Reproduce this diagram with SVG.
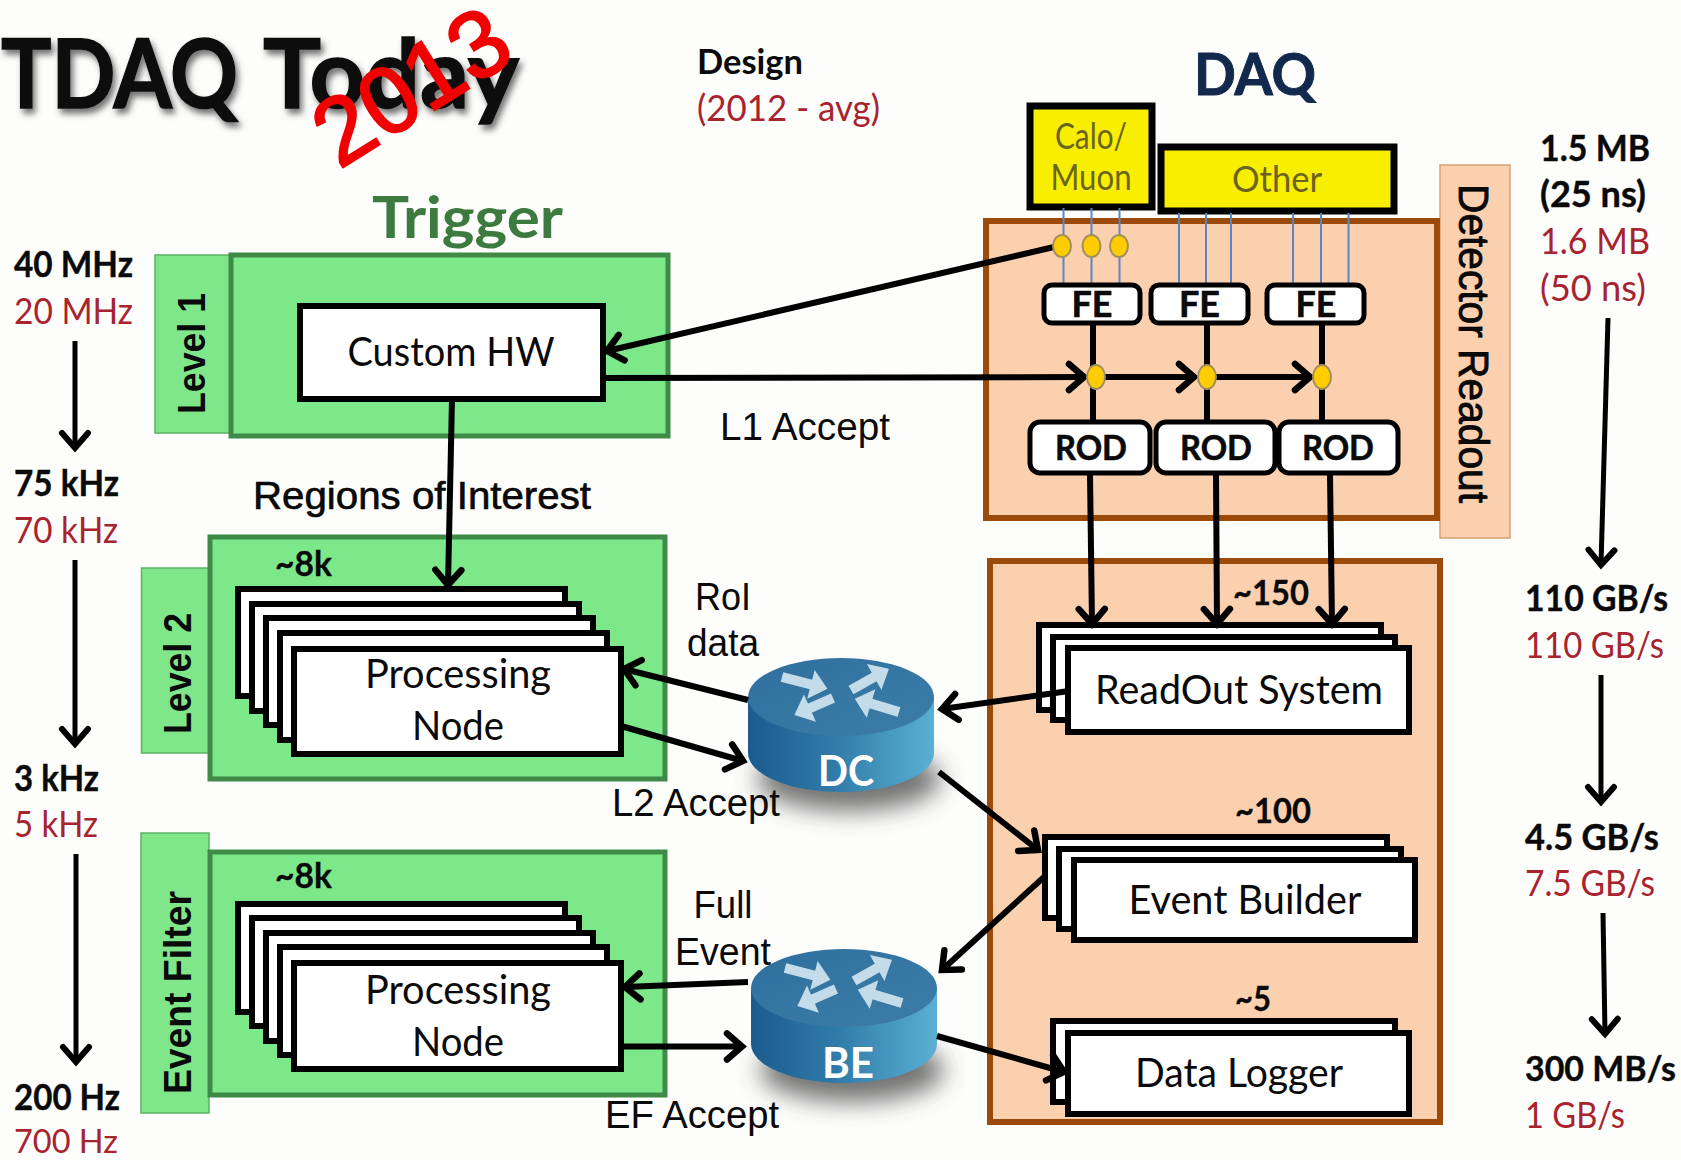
<svg xmlns="http://www.w3.org/2000/svg" width="1681" height="1160" viewBox="0 0 1681 1160">
<style>
text{font-family:Lato,"Open Sans","Liberation Sans",sans-serif;fill:#0a0a0a}
.b{font-weight:700}
.red{fill:#a8232e}
.r{font-size:37px;font-weight:700;stroke:#0a0a0a;stroke-width:.4}
.rr{font-size:37px;fill:#a8232e}
.m{text-anchor:middle}
.a{font-family:"Liberation Sans",Arial,sans-serif;font-size:38px}
.lab{font-family:"Liberation Sans",Arial,sans-serif;font-size:38px;font-weight:700}
.box{fill:#fff;stroke:#000;stroke-width:6}
.big{fill:#7de88a;stroke:#3f8a46;stroke-width:5}
.tab{fill:#7fe68a;stroke:#5bb365;stroke-width:1.5}
.org{fill:#fbd0ae;stroke:#9c4a0a;stroke-width:6}
.yel{fill:#f8ee00;stroke:#000;stroke-width:7}
.fe{fill:#fff;stroke:#000;stroke-width:5}
.ytx{fill:#6b6420;font-size:36px;text-anchor:middle}
.t38{font-size:40px;text-anchor:middle}
.cnt{font-size:35px;font-weight:700;stroke:#0a0a0a;stroke-width:.3}
.c{fill:none;stroke:#000;stroke-width:6;marker-end:url(#head)}
.c0{fill:none;stroke:#000;stroke-width:6}
.t{fill:none;stroke:#000;stroke-width:5;marker-end:url(#head2)}
.blue{stroke:#5a86c4;stroke-width:2;fill:none}
.j{fill:#ffcc00;stroke:#a09060;stroke-width:2}
.ra{fill:none;stroke:#c4dcea;stroke-width:10;marker-end:url(#wa)}
</style>
<defs>
<marker id="head" markerUnits="userSpaceOnUse" markerWidth="40" markerHeight="40" viewBox="-24 -20 40 40" refX="-1" refY="0" orient="auto" overflow="visible"><path d="M-16,-13 L-1,0 L-16,13" fill="none" stroke="#000" stroke-width="6.500" stroke-linecap="round"/></marker>
<marker id="head2" markerUnits="userSpaceOnUse" markerWidth="40" markerHeight="40" viewBox="-24 -20 40 40" refX="-1" refY="0" orient="auto" overflow="visible"><path d="M-16,-13 L-1,0 L-16,13" fill="none" stroke="#000" stroke-width="6" stroke-linecap="round"/></marker>
<marker id="wa" markerUnits="userSpaceOnUse" markerWidth="34" markerHeight="34" viewBox="-2 -16 24 32" refX="2" refY="0" orient="auto" overflow="visible"><path d="M0,-14 L16,0 L0,14Z" fill="#c4dcea"/></marker>
<linearGradient id="side" x1="0" x2="1" y1="0" y2="0"><stop offset="0" stop-color="#1c5b8f"/><stop offset=".45" stop-color="#2f7aa8"/><stop offset="1" stop-color="#5ab0d2"/></linearGradient>
<linearGradient id="top" x1="0" x2="1" y1="0" y2="1"><stop offset="0" stop-color="#2f6f9e"/><stop offset="1" stop-color="#3c7ea8"/></linearGradient>
<filter id="sh" x="-10%" y="-30%" width="120%" height="170%"><feDropShadow dx="3" dy="5" stdDeviation="3" flood-color="#444" flood-opacity=".75"/></filter>
<filter id="bl" x="-40%" y="-100%" width="180%" height="300%"><feGaussianBlur stdDeviation="12"/></filter>
<g id="router">
<ellipse cx="8" cy="82" rx="92" ry="32" fill="#444" opacity=".75" filter="url(#bl)"/>
<path d="M-93,0 L-93,56 A93,39 0 0 0 93,56 L93,0 Z" fill="url(#side)"/>
<ellipse cx="0" cy="0" rx="93" ry="39" fill="url(#top)"/>
<path class="ra" d="M-59,-20 L-28,-12"/>
<path class="ra" d="M10,-7 L35,-21"/>
<path class="ra" d="M-8,1 L-33,12"/>
<path class="ra" d="M58,15 L28,6"/>
</g>
</defs>
<rect width="1681" height="1160" fill="#fdfdfc"/>

<g id="title"><text y="108" class="b" font-size="95" filter="url(#sh)" style="stroke:#0a0a0a;stroke-width:1.5"><tspan x="1" textLength="237" lengthAdjust="spacingAndGlyphs">TDAQ</tspan> <tspan x="263" textLength="256" lengthAdjust="spacingAndGlyphs">Today</tspan></text></g>
<g id="year"><text transform="translate(339,170) rotate(-32)" style="font-family:'Liberation Sans',Arial,sans-serif;fill:#f00000;stroke:#f00000;stroke-width:2;font-size:95px">2013</text></g>
<g id="design"><text x="697" y="74" class="b" font-size="34" textLength="106" lengthAdjust="spacingAndGlyphs">Design</text><text x="697" y="121" class="red" font-size="37" textLength="183" lengthAdjust="spacingAndGlyphs">(2012 - avg)</text></g>
<g id="trigger-title"><text x="372" y="238" class="b" font-size="58" style="fill:#3c7a3f" textLength="191" lengthAdjust="spacingAndGlyphs">Trigger</text></g>
<g id="daq-title"><text x="1194" y="95" class="b" font-size="58" style="fill:#12284c;stroke:#12284c;stroke-width:1" textLength="122" lengthAdjust="spacingAndGlyphs">DAQ</text></g>

<g id="rates-left">
<text x="14" y="277" class="r" textLength="119" lengthAdjust="spacingAndGlyphs">40 MHz</text><text x="14" y="324" class="rr" textLength="119" lengthAdjust="spacingAndGlyphs">20 MHz</text>
<text x="14" y="496" class="r" textLength="105" lengthAdjust="spacingAndGlyphs">75 kHz</text><text x="14" y="543" class="rr" textLength="104" lengthAdjust="spacingAndGlyphs">70 kHz</text>
<text x="14" y="791" class="r" textLength="85" lengthAdjust="spacingAndGlyphs">3 kHz</text><text x="14" y="837" class="rr" textLength="84" lengthAdjust="spacingAndGlyphs">5 kHz</text>
<text x="14" y="1110" class="r" textLength="106" lengthAdjust="spacingAndGlyphs">200 Hz</text><text x="14" y="1153" class="rr" style="font-size:33px" textLength="104" lengthAdjust="spacingAndGlyphs">700 Hz</text>
</g>
<g id="rates-right">
<text x="1540" y="161" class="r" textLength="110" lengthAdjust="spacingAndGlyphs">1.5 MB</text><text x="1540" y="207" class="r" textLength="106" lengthAdjust="spacingAndGlyphs">(25 ns)</text>
<text x="1540" y="254" class="rr" textLength="110" lengthAdjust="spacingAndGlyphs">1.6 MB</text><text x="1540" y="301" class="rr" textLength="106" lengthAdjust="spacingAndGlyphs">(50 ns)</text>
<text x="1525" y="611" class="r" textLength="143" lengthAdjust="spacingAndGlyphs">110 GB/s</text><text x="1525" y="658" class="rr" textLength="139" lengthAdjust="spacingAndGlyphs">110 GB/s</text>
<text x="1525" y="850" class="r" textLength="134" lengthAdjust="spacingAndGlyphs">4.5 GB/s</text><text x="1525" y="896" class="rr" textLength="130" lengthAdjust="spacingAndGlyphs">7.5 GB/s</text>
<text x="1525" y="1081" class="r" style="font-size:34px" textLength="151" lengthAdjust="spacingAndGlyphs">300 MB/s</text><text x="1525" y="1128" class="rr" textLength="100" lengthAdjust="spacingAndGlyphs">1 GB/s</text>
</g>

<g id="level1">
<rect class="tab" x="155" y="255" width="76" height="178"/>
<rect class="big" x="231" y="255" width="437" height="181"/>
<text class="lab" transform="translate(205,414) rotate(-90)" textLength="121" lengthAdjust="spacingAndGlyphs">Level 1</text>
</g>
<g id="custom-hw"><rect class="box" x="300" y="306" width="303" height="93"/><text class="t38" x="451" y="366" textLength="207" lengthAdjust="spacingAndGlyphs">Custom HW</text></g>

<g id="level2">
<rect class="tab" x="141.500" y="568" width="68.500" height="185"/>
<rect class="big" x="210" y="537" width="455" height="242"/>
<text class="lab" transform="translate(191,734) rotate(-90)" textLength="121" lengthAdjust="spacingAndGlyphs">Level 2</text>
<text class="cnt" x="275" y="576" textLength="57" lengthAdjust="spacingAndGlyphs">~8k</text>
</g>
<g id="pn-l2">
<rect class="box" x="238" y="589" width="327" height="107"/>
<rect class="box" x="252" y="604" width="327" height="107"/>
<rect class="box" x="266" y="618" width="327" height="107"/>
<rect class="box" x="280" y="633" width="327" height="107"/>
<rect class="box" x="294" y="649" width="327" height="105"/>
<text class="t38" x="458" y="688" textLength="186" lengthAdjust="spacingAndGlyphs">Processing</text>
<text class="t38" x="458" y="740" textLength="92" lengthAdjust="spacingAndGlyphs">Node</text>
</g>
<g id="event-filter">
<rect class="tab" x="141" y="833" width="68" height="280"/>
<rect class="big" x="210" y="852" width="455" height="243"/>
<text class="lab" transform="translate(191,1094) rotate(-90)" textLength="203" lengthAdjust="spacingAndGlyphs">Event Filter</text>
<text class="cnt" x="275" y="888" textLength="57" lengthAdjust="spacingAndGlyphs">~8k</text>
</g>
<g id="pn-ef">
<rect class="box" x="238" y="904" width="327" height="108"/>
<rect class="box" x="252" y="918" width="327" height="108"/>
<rect class="box" x="266" y="933" width="327" height="108"/>
<rect class="box" x="280" y="947" width="327" height="108"/>
<rect class="box" x="294" y="963" width="327" height="106"/>
<text class="t38" x="458" y="1004" textLength="186" lengthAdjust="spacingAndGlyphs">Processing</text>
<text class="t38" x="458" y="1056" textLength="92" lengthAdjust="spacingAndGlyphs">Node</text>
</g>

<g id="detector-readout">
<rect x="1440" y="165" width="70" height="373" fill="#fbd0ae" stroke="#d9a070" stroke-width="1.500"/>
<rect class="org" x="986" y="221" width="451" height="297"/>
<text class="a" transform="translate(1459,184) rotate(90)" style="font-size:42px;stroke:#000;stroke-width:.8" textLength="319" lengthAdjust="spacingAndGlyphs">Detector Readout</text>
</g>
<g id="daq-box"><rect class="org" x="990" y="561" width="450" height="561"/></g>
<g id="calo"><rect class="yel" x="1030" y="106" width="122" height="101"/><text class="ytx" x="1091" y="149" textLength="72" lengthAdjust="spacingAndGlyphs">Calo/</text><text class="ytx" x="1091" y="190" textLength="81" lengthAdjust="spacingAndGlyphs">Muon</text></g>
<g id="other"><rect class="yel" x="1161" y="147" width="233" height="64"/><text class="ytx" x="1277" y="192" textLength="90" lengthAdjust="spacingAndGlyphs">Other</text></g>
<g id="feeds"><path class="blue" d="M1063.500,208V284M1091.500,208V284M1119.500,208V284M1179,213V284M1206,213V284M1231,213V284M1293,213V284M1321,213V284M1348.500,213V284"/></g>
<g id="fe1"><rect class="fe" x="1044" y="285" width="96" height="38" rx="8"/><text class="m b" x="1092" y="317" font-size="36" style="stroke:#0a0a0a;stroke-width:.6" textLength="41" lengthAdjust="spacingAndGlyphs">FE</text></g>
<g id="fe2"><rect class="fe" x="1151" y="285" width="97" height="38" rx="8"/><text class="m b" x="1199.500" y="317" font-size="36" style="stroke:#0a0a0a;stroke-width:.6" textLength="41" lengthAdjust="spacingAndGlyphs">FE</text></g>
<g id="fe3"><rect class="fe" x="1267" y="285" width="97" height="38" rx="8"/><text class="m b" x="1316" y="317" font-size="36" style="stroke:#0a0a0a;stroke-width:.6" textLength="41" lengthAdjust="spacingAndGlyphs">FE</text></g>
<g id="connectors-readout"><path class="c0" d="M1093,324V421M1207,324V421M1322,324V421"/></g>
<g id="rod1"><rect class="fe" x="1030" y="422" width="120" height="51" rx="10"/><text class="m b" x="1091" y="460" font-size="35" style="stroke:#0a0a0a;stroke-width:.6" textLength="72" lengthAdjust="spacingAndGlyphs">ROD</text></g>
<g id="rod2"><rect class="fe" x="1156" y="422" width="119" height="51" rx="10"/><text class="m b" x="1216" y="460" font-size="35" style="stroke:#0a0a0a;stroke-width:.6" textLength="72" lengthAdjust="spacingAndGlyphs">ROD</text></g>
<g id="rod3"><rect class="fe" x="1279" y="422" width="119" height="51" rx="10"/><text class="m b" x="1338" y="460" font-size="35" style="stroke:#0a0a0a;stroke-width:.6" textLength="72" lengthAdjust="spacingAndGlyphs">ROD</text></g>

<g id="ros">
<rect class="box" x="1039" y="625" width="342" height="85"/>
<rect class="box" x="1053" y="637" width="342" height="83"/>
<rect class="box" x="1068" y="648" width="341" height="84"/>
<text class="t38" x="1239" y="704" textLength="288" lengthAdjust="spacingAndGlyphs">ReadOut System</text>
<text class="cnt" x="1233" y="605" textLength="76" lengthAdjust="spacingAndGlyphs">~150</text>
</g>
<g id="event-builder">
<rect class="box" x="1045" y="837" width="342" height="81"/>
<rect class="box" x="1059" y="849" width="342" height="80"/>
<rect class="box" x="1074" y="860" width="341" height="80"/>
<text class="t38" x="1245" y="914" textLength="233" lengthAdjust="spacingAndGlyphs">Event Builder</text>
<text class="cnt" x="1235" y="823" textLength="76" lengthAdjust="spacingAndGlyphs">~100</text>
</g>
<g id="data-logger">
<rect class="box" x="1053" y="1021" width="342" height="81"/>
<rect class="box" x="1068" y="1033" width="341" height="81"/>
<text class="t38" x="1239" y="1087" textLength="208" lengthAdjust="spacingAndGlyphs">Data Logger</text>
<text class="cnt" x="1235" y="1011" textLength="36" lengthAdjust="spacingAndGlyphs">~5</text>
</g>

<g id="dc"><use href="#router" x="841" y="697"/><text class="m b" x="846" y="786" font-size="42" style="fill:#fff" textLength="56" lengthAdjust="spacingAndGlyphs">DC</text></g>
<g id="be"><use href="#router" x="844" y="988"/><text class="m b" x="848" y="1078" font-size="42" style="fill:#fff" textLength="52" lengthAdjust="spacingAndGlyphs">BE</text></g>

<g id="labels">
<text class="a" x="253" y="509" textLength="338" lengthAdjust="spacingAndGlyphs" style="stroke:#000;stroke-width:.6">Regions of Interest</text>
<text class="a" x="720" y="440" textLength="170" lengthAdjust="spacingAndGlyphs">L1 Accept</text>
<text class="a m" x="723" y="610" textLength="56" lengthAdjust="spacingAndGlyphs">RoI</text>
<text class="a m" x="723" y="656" textLength="72" lengthAdjust="spacingAndGlyphs">data</text>
<text class="a" x="612" y="816" textLength="168" lengthAdjust="spacingAndGlyphs">L2 Accept</text>
<text class="a m" x="723" y="918" textLength="59" lengthAdjust="spacingAndGlyphs">Full</text>
<text class="a m" x="723" y="965" textLength="96" lengthAdjust="spacingAndGlyphs">Event</text>
<text class="a" x="605" y="1128" textLength="174" lengthAdjust="spacingAndGlyphs">EF Accept</text>
</g>

<g id="connectors">
<path class="c" d="M1054,247L607,351"/>
<path class="c" d="M604,378L1084,377"/>
<path class="c" d="M1096,377H1194"/>
<path class="c" d="M1207,377H1310"/>
<path class="c" d="M452,399L448,585"/>
<path class="c" d="M1090,474L1092,624"/>
<path class="c" d="M1216,474L1217,624"/>
<path class="c" d="M1330,474L1332,624"/>
<path class="c" d="M748,700L624,669"/>
<path class="c" d="M621,726L743,761"/>
<path class="c" d="M1069,691L942,709"/>
<path class="c" d="M939,772L1038,850"/>
<path class="c" d="M1044,877L942,970"/>
<path class="c" d="M937,1036L1064,1072"/>
<path class="c" d="M748,982L625,987"/>
<path class="c" d="M624,1046.500H742"/>
<path class="t" d="M75,341V448"/>
<path class="t" d="M75,560V744"/>
<path class="t" d="M76,854V1062"/>
<path class="t" d="M1608,318L1601,565"/>
<path class="t" d="M1601,675V802"/>
<path class="t" d="M1603,913L1605,1034"/>
</g>
<g id="junctions">
<ellipse class="j" cx="1062" cy="246" rx="9" ry="11"/><ellipse class="j" cx="1091.500" cy="246" rx="9" ry="11"/><ellipse class="j" cx="1119" cy="246" rx="9" ry="11"/>
<ellipse class="j" cx="1096" cy="377" rx="9" ry="12"/><ellipse class="j" cx="1207" cy="377" rx="9" ry="12"/><ellipse class="j" cx="1322" cy="377" rx="9" ry="12"/>
</g>
</svg>
